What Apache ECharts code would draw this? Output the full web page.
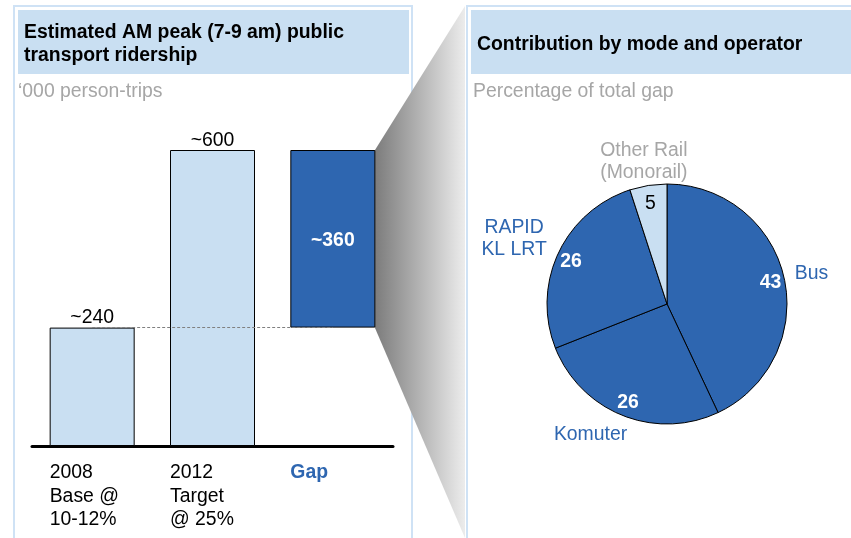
<!DOCTYPE html>
<html>
<head>
<meta charset="utf-8">
<script src="https://cdn.jsdelivr.net/npm/echarts@6/dist/echarts.min.js"></script>
<style>
html,body{margin:0;padding:0;background:#fff;}
#chart{width:851px;height:538px;}
</style>
</head>
<body>
<div id="chart"></div>
<script>
// ---- data ----
var barCategories = [
  ['2008', 'Base @', '10-12%'],
  ['2012', 'Target', '@ 25%'],
  ['Gap']
];
var barValues = [240, 600, 360];
var barOffsets = [0, 0, 240];
var barLabels = ['~240', '~600', '~360'];
var pieNames = ['Bus', 'Komuter', 'RAPID\nKL LRT', 'Other Rail\n(Monorail)'];
var pieValues = [43, 26, 26, 5];
var leftTitle = 'Estimated AM peak (7-9 am) public\ntransport ridership';
var leftSubtitle = '\u2018000 person-trips';
var rightTitle = 'Contribution by mode and operator';
var rightSubtitle = 'Percentage of total gap';

// ---- style ----
var FONT = '"Liberation Sans", Arial, sans-serif';
var FS = 19.4;
var DARK = '#2e66b0';
var LIGHT = '#c9dff2';
var PANEL = '#cfe2f5';

var chart = echarts.init(document.getElementById('chart'), null, {renderer: 'canvas'});

var pieColors = [DARK, DARK, DARK, LIGHT];
var nameColors = [DARK, DARK, DARK, '#a6a6a6'];
var nameOffsets = [[0, 2], [-22, -7], [-19, -2], [0, 4]];
var valueOffsets = [[0, 2], [0, 0], [0, 3], [0, 4]];

var option = {
  animation: false,
  textStyle: {fontFamily: FONT},
  title: [
    {text: leftTitle, left: 24, top: 21, padding: 0,
     textStyle: {fontFamily: FONT, fontSize: FS, fontWeight: 'bold', color: '#000', lineHeight: 23}},
    {text: rightTitle, left: 477, top: 33.5, padding: 0,
     textStyle: {fontFamily: FONT, fontSize: FS, fontWeight: 'bold', color: '#000', lineHeight: 23}},
    {text: leftSubtitle, left: 18, top: 82, padding: 0,
     textStyle: {fontFamily: FONT, fontSize: FS, fontWeight: 'normal', color: '#a6a6a6', lineHeight: 20}},
    {text: rightSubtitle, left: 473, top: 82, padding: 0,
     textStyle: {fontFamily: FONT, fontSize: FS, fontWeight: 'normal', color: '#a6a6a6', lineHeight: 20}}
  ],
  graphic: [
    {type: 'rect', z: -10, shape: {x: 14, y: 6, width: 398, height: 540},
     style: {fill: '#fff', stroke: PANEL, lineWidth: 2}},
    {type: 'rect', z: -9, shape: {x: 18, y: 10, width: 391, height: 64},
     style: {fill: LIGHT}},
    {type: 'rect', z: -10, shape: {x: 467, y: 6, width: 400, height: 540},
     style: {fill: '#fff', stroke: PANEL, lineWidth: 2}},
    {type: 'rect', z: -9, shape: {x: 471, y: 10, width: 390, height: 64},
     style: {fill: LIGHT}},
    {type: 'polygon', z: -8,
     shape: {points: [[375, 150], [465, 6], [465, 538], [375, 328]]},
     style: {fill: new echarts.graphic.LinearGradient(0, 0, 1, 0, [
       {offset: 0, color: '#7c7c7c'},
       {offset: 1, color: '#ececec'}
     ])}}
  ],
  grid: {left: 32, right: 458, top: 150, bottom: 92, containLabel: false},
  xAxis: {
    type: 'category',
    data: barCategories.map(function (c) { return c.join('\n'); }),
    axisLine: {lineStyle: {color: '#000', width: 3}},
    axisTick: {show: false},
    axisLabel: {
      interval: 0,
      margin: 15,
      align: 'center',
      formatter: function (v, i) {
        var lines = barCategories[i];
        var key = i === 2 ? 'g' : 'l';
        return lines.map(function (s) { return '{' + key + '|' + s + '}'; }).join('\n');
      },
      rich: {
        l: {width: 85, align: 'left', fontSize: FS, fontFamily: FONT, color: '#000', lineHeight: 23.5},
        g: {width: 85, align: 'left', fontSize: FS, fontFamily: FONT, color: DARK, fontWeight: 'bold', lineHeight: 23.5}
      }
    }
  },
  yAxis: {type: 'value', min: 0, max: 600, show: false, splitLine: {show: false}},
  series: [
    {
      type: 'line', z: 1, data: [], silent: true,
      markLine: {
        silent: true, symbol: 'none', label: {show: false},
        lineStyle: {color: '#808080', width: 1, type: [3, 2]},
        data: [[{coord: [0, barOffsets[2]]}, {coord: [2, barOffsets[2]]}]]
      }
    },
    {
      type: 'bar', stack: 'w', z: 2, barWidth: 85, silent: true,
      itemStyle: {color: 'rgba(0,0,0,0)'},
      data: barOffsets
    },
    {
      type: 'bar', stack: 'w', z: 3, barWidth: 85, silent: true,
      data: barValues.map(function (v, i) {
        var gap = i === 2;
        return {
          value: v,
          itemStyle: {color: gap ? DARK : LIGHT, borderColor: '#000', borderWidth: 1},
          label: gap ? {show: true, position: 'inside', color: '#fff', fontWeight: 'bold', fontSize: FS,
                        offset: [0, 2], formatter: barLabels[i]}
                     : {show: true, position: 'top', distance: 0, color: '#000', fontSize: FS,
                        formatter: barLabels[i]}
        };
      })
    },
    {
      type: 'pie', z: 2, center: [667, 304], radius: [0, 120], startAngle: 90, clockwise: true,
      silent: true, label: {show: false}, labelLine: {show: false},
      data: pieValues.map(function (v, i) {
        return {name: pieNames[i], value: v,
                itemStyle: {color: pieColors[i], borderColor: '#000', borderWidth: 1}};
      })
    },
    {
      type: 'pie', z: 3, center: [667, 304], radius: [86, 120], startAngle: 90, clockwise: true,
      silent: true, labelLine: {show: false},
      itemStyle: {color: 'rgba(0,0,0,0)', borderWidth: 0},
      label: {show: true, position: 'inside', rotate: 0, fontSize: FS, fontFamily: FONT,
              formatter: '{c}'},
      data: pieValues.map(function (v, i) {
        var small = i === 3;
        return {name: pieNames[i], value: v,
                label: {color: small ? '#000' : '#fff', fontWeight: small ? 'normal' : 'bold',
                        offset: valueOffsets[i]}};
      })
    },
    {
      type: 'pie', z: 3, center: [667, 304], radius: [140, 150], startAngle: 90, clockwise: true,
      silent: true, labelLine: {show: false},
      itemStyle: {color: 'rgba(0,0,0,0)', borderWidth: 0},
      label: {show: true, position: 'inside', rotate: 0, fontSize: FS, fontFamily: FONT,
              lineHeight: 22, formatter: '{b}'},
      data: pieValues.map(function (v, i) {
        return {name: pieNames[i], value: v,
                label: {color: nameColors[i], offset: nameOffsets[i]}};
      })
    }
  ]
};
chart.setOption(option);
</script>
</body>
</html>
